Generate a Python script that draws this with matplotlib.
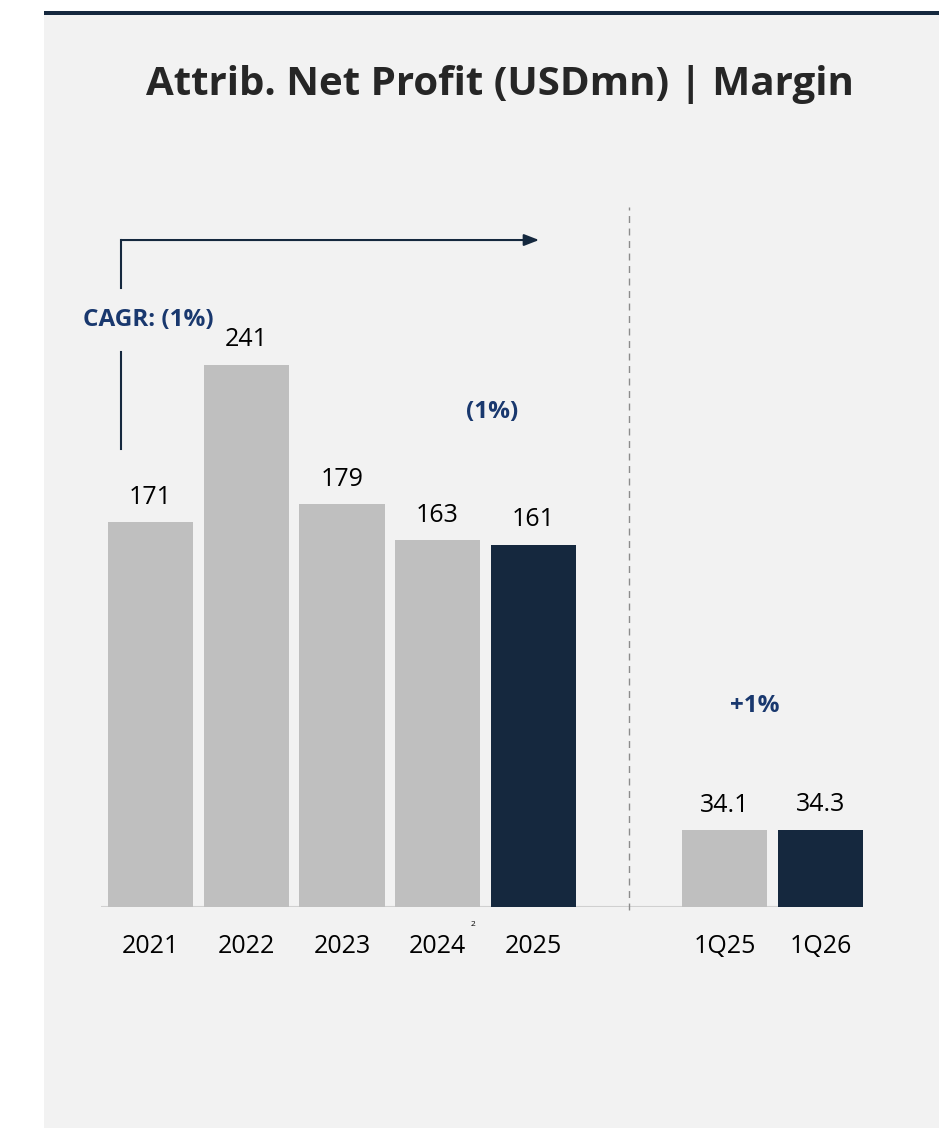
import matplotlib.pyplot as plt
from matplotlib.patches import Rectangle

plt.rcParams['font.family'] = ['Open Sans', 'DejaVu Sans']

categories = ['2021', '2022', '2023', '2024', '2025', '1Q25', '1Q26']
values = [171, 241, 179, 163, 161, 34.1, 34.3]
value_labels = ['171', '241', '179', '163', '161', '34.1', '34.3']
positions = [0, 1, 2, 3, 4, 6, 7]
highlight = ['2025', '1Q26']

GREY = '#bfbfbf'
NAVY = '#15283e'
BLUE_TXT = '#19386e'
PANEL = '#f2f2f2'

W, H = 947, 1128
fig = plt.figure(figsize=(W / 100, H / 100), dpi=100)
fig.patch.set_facecolor('white')

# grey panel + dark rule on top
fig.patches.append(Rectangle((44 / W, 0), (939 - 44) / W, (H - 15) / H,
                             transform=fig.transFigure, facecolor=PANEL,
                             edgecolor='none', zorder=-2))
fig.patches.append(Rectangle((44 / W, (H - 15) / H), (939 - 44) / W, 4 / H,
                             transform=fig.transFigure, facecolor=NAVY,
                             edgecolor='none', zorder=-2))

ax = fig.add_axes([44 / W, (H - 907) / H, (939 - 44) / W, (907 - 15) / H])
ax.set_facecolor('none')
ax.set_xlim(-1.113, 8.239)
ax.set_ylim(0, 396.4)
for s in ax.spines.values():
    s.set_visible(False)
ax.set_xticks([])
ax.set_yticks([])

colors = [NAVY if c in highlight else GREY for c in categories]
ax.bar(positions, values, width=0.89, color=colors, zorder=2)
ax.hlines(0, -0.52, 7.45, color='#d0d0d0', lw=1.5, zorder=1)

for p, v, lab in zip(positions, values, value_labels):
    ax.annotate(lab, (p, v), xytext=(0, 18), textcoords='offset points',
                ha='center', va='center', fontsize=18, color='#000000')

for p, c in zip(positions, categories):
    ax.annotate(c, (p, 0), xytext=(0, -28.5), textcoords='offset points',
                ha='center', va='center', fontsize=18, color='#000000',
                annotation_clip=False)

# footnote marker on 2024
ax.annotate('2', (3, 0), xytext=(25.5, -12.5), textcoords='offset points',
            ha='center', va='center', fontsize=6, color='#000000',
            annotation_clip=False)

# dashed separator between annual and quarterly
ax.vlines(5, -1.5, 311, color='#8c8c8c', lw=1, linestyles=(0, (5, 4)),
          zorder=1, clip_on=False)

# CAGR bracket
ax.plot([-0.308, -0.308], [275, 296.4], color=NAVY, lw=1.5)
ax.plot([-0.308, -0.308], [203.6, 246.7], color=NAVY, lw=1.5)
ax.annotate('', xy=(4.06, 296.4), xytext=(-0.308, 296.4),
            arrowprops=dict(arrowstyle='-|>,head_length=0.9,head_width=0.35',
                            color=NAVY, lw=1.5, shrinkA=0, shrinkB=0))
ax.text(-0.026, 261, 'CAGR: (1%)', ha='center', va='center', fontsize=17.5,
        fontweight='bold', color=BLUE_TXT)
ax.text(3.57, 220, '(1%)', ha='center', va='center', fontsize=17.5,
        fontweight='bold', color=BLUE_TXT)
ax.text(6.31, 89.3, '+1%', ha='center', va='center', fontsize=17.5,
        fontweight='bold', color=BLUE_TXT)

fig.text(500 / W, 1 - 85 / H, 'Attrib. Net Profit (USDmn) | Margin',
         ha='center', va='center', fontsize=29, fontweight='bold',
         color='#262626')

fig.savefig('out.png', dpi=100, facecolor=fig.get_facecolor())
